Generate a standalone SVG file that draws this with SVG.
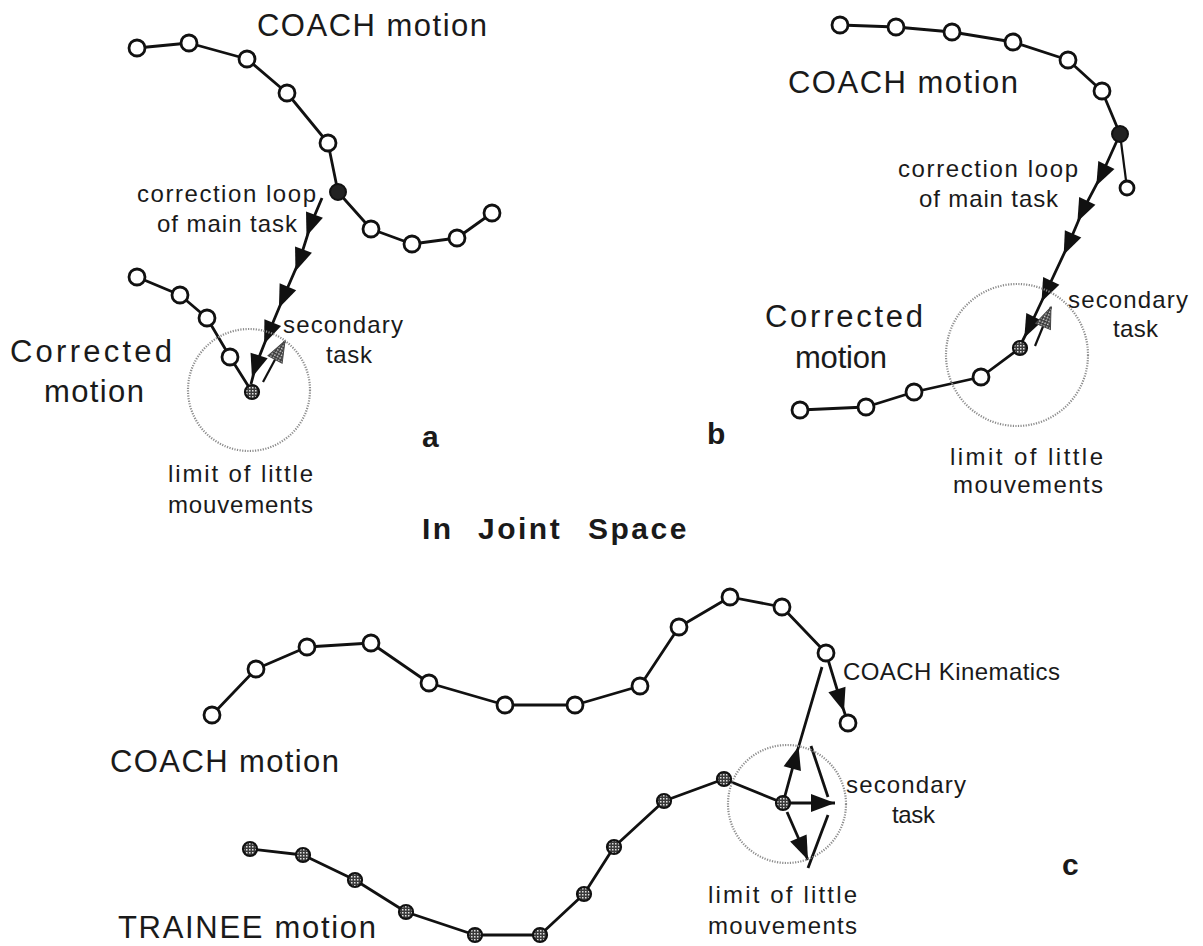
<svg xmlns="http://www.w3.org/2000/svg" width="1203" height="946" viewBox="0 0 1203 946">
<style>
.t{font-family:"Liberation Sans",Arial,sans-serif;fill:#1a1a1a;font-size:24px}
.tl{font-family:"Liberation Sans",Arial,sans-serif;fill:#1a1a1a;font-size:31px}
.tb{font-family:"Liberation Sans",Arial,sans-serif;fill:#1a1a1a;font-size:30px;font-weight:bold}
.traj{fill:none;stroke:#111;stroke-width:2.8;stroke-linejoin:round}
.conn{fill:none;stroke:#111;stroke-width:2.8}
.thin{fill:none;stroke:#111;stroke-width:2.2}
.lim{fill:none;stroke:#8c8c8c;stroke-width:2.2;stroke-dasharray:1.2 1.4}
.o{fill:#fff;stroke:#111;stroke-width:2.8}
.f{fill:#222;stroke:#111;stroke-width:2}
.h{fill:url(#stip);stroke:#111;stroke-width:2.2}
</style>
<defs>
<pattern id="stip" width="3" height="3" patternUnits="userSpaceOnUse">
<rect width="3" height="3" fill="#3a3a3a"/><rect width="1.5" height="1.5" fill="#e0e0e0"/>
</pattern>
<marker id="am" viewBox="-12 -11 28 22" markerWidth="28" markerHeight="22" refX="0" refY="0" orient="auto" markerUnits="userSpaceOnUse">
<path d="M13,0 L-10,-9 L-10,9 Z" fill="#111"/>
</marker>
<marker id="ae" viewBox="-26 -11 28 22" markerWidth="28" markerHeight="22" refX="0" refY="0" orient="auto" markerUnits="userSpaceOnUse">
<path d="M0,0 L-24,-9 L-24,9 Z" fill="#111"/>
</marker>
<marker id="ag" viewBox="-26 -11 28 22" markerWidth="28" markerHeight="22" refX="0" refY="0" orient="auto" markerUnits="userSpaceOnUse">
<path d="M0,0 L-21,-8 L-21,8 Z" fill="url(#stip)" stroke="#444" stroke-width="1"/>
</marker>
</defs>
<rect width="1203" height="946" fill="#fff"/>

<g id="connectors">
<!-- panel a -->
<polyline class="traj" points="137,48 189,43 247,59 287,93 328,143 338,192 371,229 412,244 457,238 492,213"/>
<polyline class="traj" points="137,277 180,295 207,318 230,357 252,392"/>
<path class="conn" d="M322,198 L311,224 L300,259 L284,296 L269,332 L256,365 L251,384" marker-mid="url(#am)"/>
<path class="thin" d="M263,382 L285,341" marker-end="url(#ag)"/>
<circle class="lim" cx="249" cy="390" r="61"/>
<!-- panel b -->
<polyline class="traj" points="840,25 896,27 952,32 1013,42 1068,60 1102,91 1120,134"/>
<path class="thin" d="M1120,134 L1127,188"/>
<polyline class="traj" points="800,410 866,407 914,392 981,377 1020,348"/>
<path class="conn" d="M1120,134 L1102,174 L1083,210 L1069,243 L1047,290 L1030,326 L1022,342" marker-mid="url(#am)"/>
<path class="thin" d="M1035,346 L1051,307" marker-end="url(#ag)"/>
<circle class="lim" cx="1017" cy="355" r="71"/>
<!-- panel c -->
<polyline class="traj" points="212,715 256,669 307,647 371,643 429,683 505,705 575,705 640,686 679,627 730,597 782,607 826,653"/>
<path class="conn" d="M826,653 L840,699 L848,723" marker-mid="url(#am)"/>
<polyline class="traj" points="250,849 303,855 355,880 406,912 475,935 540,935 584,894 614,847 664,801 724,779 783,803"/>
<path class="conn" d="M783,803 L795,759 L822,667" marker-mid="url(#am)"/>
<path class="conn" d="M787,803 L835,803" marker-end="url(#ae)"/>
<path class="conn" d="M787,812 L808,860" marker-end="url(#ae)"/>
<path class="conn" d="M811,746 L828,797"/>
<path class="conn" d="M828,815 L808,868"/>
<circle class="lim" cx="787" cy="804" r="59"/>
</g>

<!-- panel a nodes -->
<g id="a-coach-1"><circle class="o" cx="137" cy="48" r="8"/></g>
<g id="a-coach-2"><circle class="o" cx="189" cy="43" r="8"/></g>
<g id="a-coach-3"><circle class="o" cx="247" cy="59" r="8"/></g>
<g id="a-coach-4"><circle class="o" cx="287" cy="93" r="8"/></g>
<g id="a-coach-5"><circle class="o" cx="328" cy="143" r="8"/></g>
<g id="a-coach-6"><circle class="f" cx="338" cy="192" r="8"/></g>
<g id="a-coach-7"><circle class="o" cx="371" cy="229" r="8"/></g>
<g id="a-coach-8"><circle class="o" cx="412" cy="244" r="8"/></g>
<g id="a-coach-9"><circle class="o" cx="457" cy="238" r="8"/></g>
<g id="a-coach-10"><circle class="o" cx="492" cy="213" r="8"/></g>
<g id="a-corr-1"><circle class="o" cx="137" cy="277" r="8"/></g>
<g id="a-corr-2"><circle class="o" cx="180" cy="295" r="8"/></g>
<g id="a-corr-3"><circle class="o" cx="207" cy="318" r="8"/></g>
<g id="a-corr-4"><circle class="o" cx="230" cy="357" r="8"/></g>
<g id="a-corr-5"><circle class="h" cx="252" cy="392" r="7"/></g>

<!-- panel b nodes -->
<g id="b-coach-1"><circle class="o" cx="840" cy="25" r="8"/></g>
<g id="b-coach-2"><circle class="o" cx="896" cy="27" r="8"/></g>
<g id="b-coach-3"><circle class="o" cx="952" cy="32" r="8"/></g>
<g id="b-coach-4"><circle class="o" cx="1013" cy="42" r="8"/></g>
<g id="b-coach-5"><circle class="o" cx="1068" cy="60" r="8"/></g>
<g id="b-coach-6"><circle class="o" cx="1102" cy="91" r="8"/></g>
<g id="b-coach-7"><circle class="f" cx="1120" cy="134" r="8"/></g>
<g id="b-coach-8"><circle class="o" cx="1127" cy="188" r="7"/></g>
<g id="b-corr-1"><circle class="o" cx="800" cy="410" r="8"/></g>
<g id="b-corr-2"><circle class="o" cx="866" cy="407" r="8"/></g>
<g id="b-corr-3"><circle class="o" cx="914" cy="392" r="8"/></g>
<g id="b-corr-4"><circle class="o" cx="981" cy="377" r="8"/></g>
<g id="b-corr-5"><circle class="h" cx="1020" cy="348" r="7"/></g>

<!-- panel c nodes -->
<g id="c-coach-1"><circle class="o" cx="212" cy="715" r="8"/></g>
<g id="c-coach-2"><circle class="o" cx="256" cy="669" r="8"/></g>
<g id="c-coach-3"><circle class="o" cx="307" cy="647" r="8"/></g>
<g id="c-coach-4"><circle class="o" cx="371" cy="643" r="8"/></g>
<g id="c-coach-5"><circle class="o" cx="429" cy="683" r="8"/></g>
<g id="c-coach-6"><circle class="o" cx="505" cy="705" r="8"/></g>
<g id="c-coach-7"><circle class="o" cx="575" cy="705" r="8"/></g>
<g id="c-coach-8"><circle class="o" cx="640" cy="686" r="8"/></g>
<g id="c-coach-9"><circle class="o" cx="679" cy="627" r="8"/></g>
<g id="c-coach-10"><circle class="o" cx="730" cy="597" r="8"/></g>
<g id="c-coach-11"><circle class="o" cx="782" cy="607" r="8"/></g>
<g id="c-coach-12"><circle class="o" cx="826" cy="653" r="8"/></g>
<g id="c-coach-13"><circle class="o" cx="848" cy="723" r="8"/></g>
<g id="c-tr-1"><circle class="h" cx="250" cy="849" r="7"/></g>
<g id="c-tr-2"><circle class="h" cx="303" cy="855" r="7"/></g>
<g id="c-tr-3"><circle class="h" cx="355" cy="880" r="7"/></g>
<g id="c-tr-4"><circle class="h" cx="406" cy="912" r="7"/></g>
<g id="c-tr-5"><circle class="h" cx="475" cy="935" r="7"/></g>
<g id="c-tr-6"><circle class="h" cx="540" cy="935" r="7"/></g>
<g id="c-tr-7"><circle class="h" cx="584" cy="894" r="7"/></g>
<g id="c-tr-8"><circle class="h" cx="614" cy="847" r="7"/></g>
<g id="c-tr-9"><circle class="h" cx="664" cy="801" r="7"/></g>
<g id="c-tr-10"><circle class="h" cx="724" cy="779" r="7"/></g>
<g id="c-tr-11"><circle class="h" cx="783" cy="803" r="7"/></g>

<g id="labels">
<text class="tl" x="257" y="36" textLength="230" lengthAdjust="spacing">COACH motion</text>
<text class="t" x="137" y="202" textLength="179" lengthAdjust="spacing">correction loop</text>
<text class="t" x="157" y="232" textLength="140" lengthAdjust="spacing">of main task</text>
<text class="t" x="283" y="333" textLength="120" lengthAdjust="spacing">secondary</text>
<text class="t" x="326" y="363" textLength="46" lengthAdjust="spacing">task</text>
<text class="tl" x="10" y="362" textLength="162" lengthAdjust="spacing">Corrected</text>
<text class="tl" x="44" y="402" textLength="100" lengthAdjust="spacing">motion</text>
<text class="t" x="168" y="482" textLength="145" lengthAdjust="spacing">limit of little</text>
<text class="t" x="168" y="513" textLength="145" lengthAdjust="spacing">mouvements</text>
<text class="tb" x="422" y="447">a</text>
<text class="tb" x="707" y="444">b</text>
<text class="tl" x="788" y="93" textLength="230" lengthAdjust="spacing">COACH motion</text>
<text class="t" x="898" y="177" textLength="180" lengthAdjust="spacing">correction loop</text>
<text class="t" x="919" y="207" textLength="139" lengthAdjust="spacing">of main task</text>
<text class="t" x="1068" y="308" textLength="120" lengthAdjust="spacing">secondary</text>
<text class="t" x="1113" y="337" textLength="45" lengthAdjust="spacing">task</text>
<text class="tl" x="765" y="327" textLength="158" lengthAdjust="spacing">Corrected</text>
<text class="tl" x="795" y="368" textLength="92" lengthAdjust="spacing">motion</text>
<text class="t" x="950" y="465" textLength="153" lengthAdjust="spacing">limit of little</text>
<text class="t" x="953" y="493" textLength="150" lengthAdjust="spacing">mouvements</text>
<text class="tb" y="539" style="letter-spacing:2.5px"><tspan x="422">In</tspan> <tspan x="478">Joint</tspan> <tspan x="588">Space</tspan></text>
<text class="tl" x="110" y="772" textLength="229" lengthAdjust="spacing">COACH motion</text>
<text class="tl" x="118" y="938" textLength="258" lengthAdjust="spacing">TRAINEE motion</text>
<text class="t" x="843" y="680" textLength="217" lengthAdjust="spacing">COACH Kinematics</text>
<text class="t" x="846" y="793" textLength="120" lengthAdjust="spacing">secondary</text>
<text class="t" x="892" y="823" textLength="43" lengthAdjust="spacing">task</text>
<text class="t" x="708" y="903" textLength="149" lengthAdjust="spacing">limit of little</text>
<text class="t" x="708" y="934" textLength="149" lengthAdjust="spacing">mouvements</text>
<text class="tb" x="1062" y="875">c</text>
</g>
</svg>
